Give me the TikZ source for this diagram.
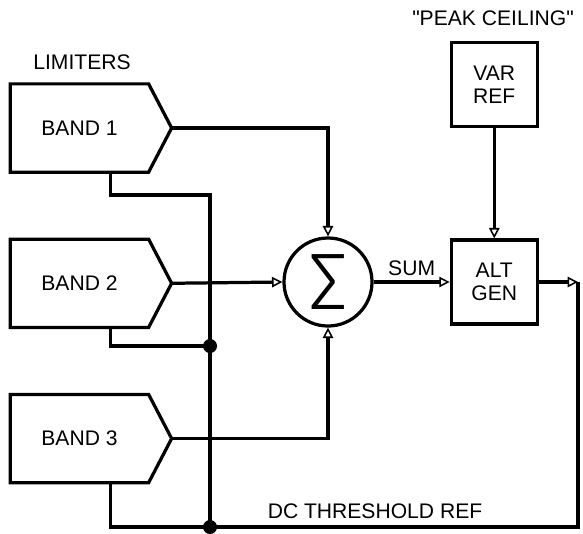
\documentclass[tikz,border=0pt]{standalone}
\usepackage{fontspec}
\setmainfont{Liberation Sans}
\newfontfamily\sigfont{Fira Sans Light}
\usetikzlibrary{positioning,arrows.meta}

\begin{document}
\begin{tikzpicture}[
  x=0.025cm, y=-0.025cm, line width=2.3pt,
  every node/.style={font=\fontsize{15}{16}\selectfont},
  limbody/.style={minimum width=3.375cm, minimum height=2.125cm, inner sep=0pt},
  blk/.style={draw, minimum width=2.15cm, minimum height=2.1cm, align=center},
  summer/.style={draw, circle, minimum size=2.2cm, inner sep=0pt},
  dot/.style={circle, fill, minimum size=3.5mm, inner sep=0pt},
  arr/.style={-{Triangle[open, length=2.6mm, width=2.6mm, line width=1.1pt]}}]
\useasboundingbox (0,0) rectangle (583,533);
\node (lim) at (82,62) {LIMITERS};
\node[limbody] (b1) at (79.5,128) {BAND 1};
\node[limbody, below=1.675cm of b1] (b2) {BAND 2};
\node[limbody, below=1.675cm of b2] (b3) {BAND 3};
% limiter outlines with pointed outputs
\foreach \i in {1,2,3}
  \draw (b\i.north west) -- (b\i.north east)
        -- ([xshift=0.575cm]b\i.east) coordinate (p\i)
        -- (b\i.south east) -- (b\i.south west) -- cycle;
\node[summer, font=\sigfont\fontsize{57}{57}\selectfont] (sig) at (328,282) {Σ};
\node[blk, right=1.9cm of sig] (alt) {ALT\\GEN};
\node[blk, above=2.75cm of alt] (var) {VAR\\REF};
\node (peak) at (493,18) {\textquotedbl PEAK CEILING\textquotedbl};
\node (dc) at (375,511) {DC THRESHOLD REF};
% limiter taps to the threshold line
\coordinate (t1) at ([xshift=2.5cm]b1.south west);
\coordinate (t2) at ([xshift=2.5cm]b2.south west);
\coordinate (t3) at ([xshift=2.5cm]b3.south west);
\coordinate (k1) at (210,195);
\coordinate (rc) at (578,282);
\node[dot] (j2) at (210,346) {};
\node[dot] (j3) at (210,527) {};
\draw (t1) |- (k1) -- (j3.center);
\draw (t2) |- (j2.center);
\draw (t3) |- (j3.center) -| (rc);
% signal path
\draw[arr] (p1) -| (sig.north);
\draw[arr] (p2) -- (sig.west);
\draw[arr] (p3) -| (sig.south);
\draw[arr] (sig.east) -- node[above] {SUM} (alt.west);
\draw[arr] (var.south) -- (alt.north);
\draw[arr] (alt.east) -- (rc);
\end{tikzpicture}
\end{document}
